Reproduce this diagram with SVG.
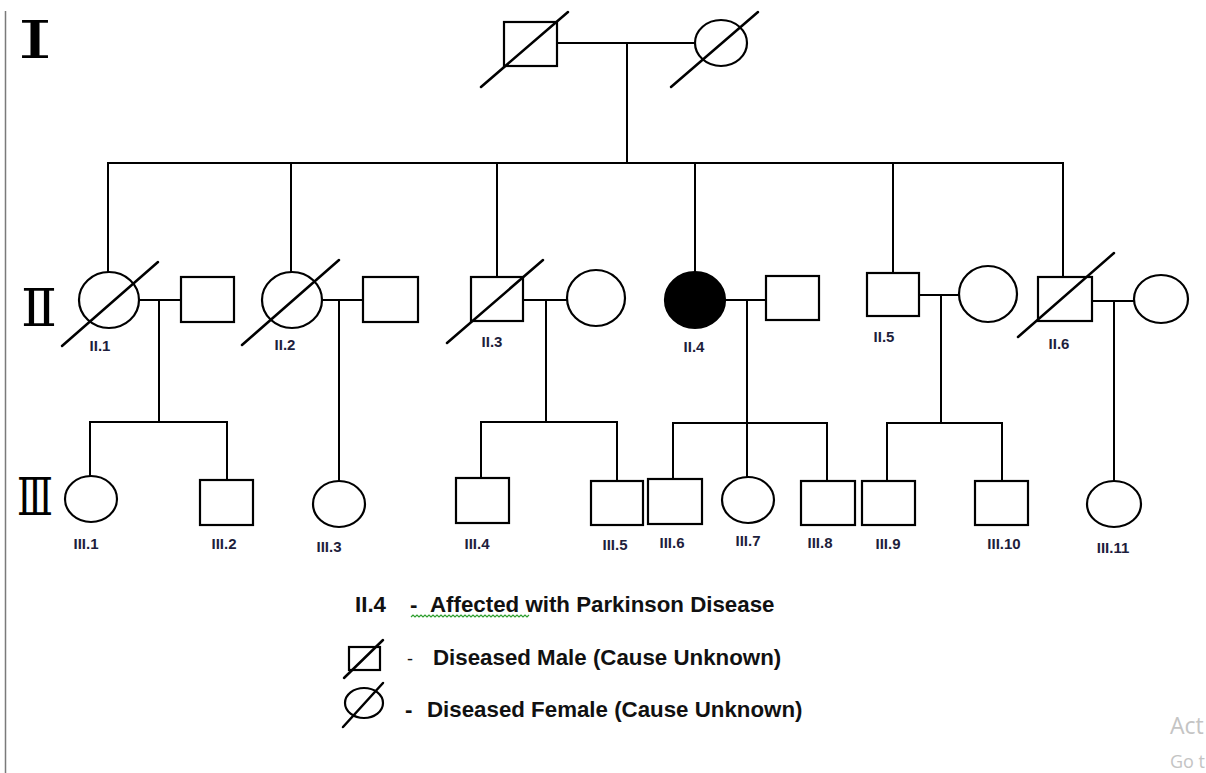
<svg xmlns="http://www.w3.org/2000/svg" width="1206" height="773" viewBox="0 0 1206 773">
<style>
.ln{stroke:#000;stroke-width:2;fill:none;stroke-linecap:square}
.sym{stroke:#000;stroke-width:2.2;fill:#fff}
.aff{stroke:#000;stroke-width:2.2;fill:#000}
.sl{stroke:#000;stroke-width:2.5;stroke-linecap:round}
.lbl{font-family:"Liberation Sans",Arial,sans-serif;font-weight:bold;font-size:15px;fill:#1e1e3c;text-anchor:middle}
.leg{font-family:"Liberation Sans",Arial,sans-serif;font-weight:bold;font-size:22.3px;fill:#111}
.gen{font-family:"DejaVu Serif","Liberation Serif",serif;font-size:53px;fill:#000}
.wm{font-family:"Open Sans","Noto Sans",sans-serif;fill:#c4c4c4}
</style>
<rect width="1206" height="773" fill="#fff"/>
<line x1="5.5" y1="11" x2="5.5" y2="773" stroke="#7a7a7a" stroke-width="1.5"/>
<g id="generations">
<text class="gen" x="17" y="58" textLength="36" lengthAdjust="spacingAndGlyphs">Ⅰ</text>
<text class="gen" x="21" y="326" textLength="36" lengthAdjust="spacingAndGlyphs">Ⅱ</text>
<text class="gen" x="17" y="515" textLength="36" lengthAdjust="spacingAndGlyphs">Ⅲ</text>
</g>
<g id="connectors" class="ln">
<path d="M557 43H695M627 43V163M108 163H1063"/>
<path d="M108 163V272M291 163V272M497 163V277M695 163V272M893 163V273M1063 163V277"/>
<path d="M139 300H181M159 300V422M90 422H227M90 422V476M227 422V480"/>
<path d="M322 300H363M339 300V481"/>
<path d="M523 300H567M546 300V422M481 422H617M481 422V478M617 422V481"/>
<path d="M725 300H766M747 300V477M673 423H827M673 423V479M827 423V481"/>
<path d="M919 295H959M941 295V423M887 423H1002M887 423V481M1002 423V481"/>
<path d="M1092 301H1134M1114 301V481"/>
</g>
<g id="I.1"><rect class="sym" x="504" y="22" width="53" height="44"/><line class="sl" x1="481" y1="87" x2="568" y2="12"/></g>
<g id="I.2"><ellipse class="sym" cx="721" cy="43" rx="26" ry="23"/><line class="sl" x1="671" y1="87" x2="758" y2="12"/></g>
<g id="II.1"><ellipse class="sym" cx="109" cy="300" rx="30" ry="28"/><line class="sl" x1="62" y1="346" x2="158" y2="262"/><text class="lbl" x="100" y="351">II.1</text></g>
<g id="II.1-spouse"><rect class="sym" x="181" y="277" width="53" height="45"/></g>
<g id="II.2"><ellipse class="sym" cx="292" cy="300" rx="30" ry="28"/><line class="sl" x1="242" y1="345" x2="339" y2="260"/><text class="lbl" x="285" y="350">II.2</text></g>
<g id="II.2-spouse"><rect class="sym" x="363" y="277" width="55" height="45"/></g>
<g id="II.3"><rect class="sym" x="471" y="277" width="52" height="44"/><line class="sl" x1="447" y1="343" x2="543" y2="260"/><text class="lbl" x="492" y="347">II.3</text></g>
<g id="II.3-spouse"><ellipse class="sym" cx="596" cy="298" rx="29" ry="28"/></g>
<g id="II.4"><ellipse class="aff" cx="695" cy="300" rx="30" ry="28"/><text class="lbl" x="694" y="352">II.4</text></g>
<g id="II.4-spouse"><rect class="sym" x="766" y="276" width="53" height="44"/></g>
<g id="II.5"><rect class="sym" x="867" y="273" width="52" height="43"/><text class="lbl" x="884" y="342">II.5</text></g>
<g id="II.5-spouse"><ellipse class="sym" cx="988" cy="294" rx="29" ry="28"/></g>
<g id="II.6"><rect class="sym" x="1038" y="277" width="54" height="44"/><line class="sl" x1="1018" y1="337" x2="1114" y2="253"/><text class="lbl" x="1059" y="349">II.6</text></g>
<g id="II.6-spouse"><ellipse class="sym" cx="1161" cy="299" rx="27" ry="24"/></g>
<g id="III.1"><ellipse class="sym" cx="91" cy="499" rx="26" ry="23"/><text class="lbl" x="86" y="549">III.1</text></g>
<g id="III.2"><rect class="sym" x="200" y="480" width="53" height="45"/><text class="lbl" x="224" y="549">III.2</text></g>
<g id="III.3"><ellipse class="sym" cx="339" cy="504" rx="26" ry="23"/><text class="lbl" x="329" y="552">III.3</text></g>
<g id="III.4"><rect class="sym" x="456" y="478" width="53" height="45"/><text class="lbl" x="477" y="549">III.4</text></g>
<g id="III.5"><rect class="sym" x="591" y="481" width="52" height="44"/><text class="lbl" x="615" y="550">III.5</text></g>
<g id="III.6"><rect class="sym" x="648" y="479" width="54" height="45"/><text class="lbl" x="672" y="548">III.6</text></g>
<g id="III.7"><ellipse class="sym" cx="748" cy="500" rx="26" ry="23"/><text class="lbl" x="748" y="546">III.7</text></g>
<g id="III.8"><rect class="sym" x="801" y="481" width="54" height="44"/><text class="lbl" x="820" y="548">III.8</text></g>
<g id="III.9"><rect class="sym" x="862" y="481" width="53" height="44"/><text class="lbl" x="888" y="549">III.9</text></g>
<g id="III.10"><rect class="sym" x="975" y="481" width="53" height="44"/><text class="lbl" x="1004" y="549">III.10</text></g>
<g id="III.11"><ellipse class="sym" cx="1114" cy="504" rx="27" ry="23"/><text class="lbl" x="1113" y="553">III.11</text></g>
<g id="legend">
<text class="leg" y="612"><tspan x="355">II.4</tspan><tspan x="410">-</tspan><tspan x="430">Affected with Parkinson Disease</tspan></text>
<path d="M411 617l2 -2l2 2l2 -2l2 2l2 -2l2 2l2 -2l2 2l2 -2l2 2l2 -2l2 2l2 -2l2 2l2 -2l2 2l2 -2l2 2l2 -2l2 2l2 -2l2 2l2 -2l2 2l2 -2l2 2l2 -2l2 2l2 -2l2 2l2 -2l2 2l2 -2l2 2l2 -2l2 2l2 -2l2 2l2 -2l2 2l2 -2l2 2l2 -2l2 2l2 -2l2 2l2 -2l2 2l2 -2l2 2l2 -2l2 2l2 -2l2 2l2 -2l2 2l2 -2l2 2l2 -2" fill="none" stroke="#2e9e2e" stroke-width="1.2"/>
<rect class="sym" x="349" y="647" width="31" height="23"/><line class="sl" x1="344" y1="678" x2="383" y2="640"/>
<text class="leg" y="665"><tspan x="407" font-weight="normal" font-size="18">-</tspan><tspan x="433">Diseased Male (Cause Unknown)</tspan></text>
<ellipse class="sym" cx="364" cy="703" rx="19" ry="15"/><line class="sl" x1="343" y1="727" x2="383" y2="683"/>
<text class="leg" y="717"><tspan x="405">-</tspan><tspan x="427">Diseased Female (Cause Unknown)</tspan></text>
</g>
<text class="wm" x="1170" y="734" font-size="23">Act</text>
<text class="wm" x="1170" y="768" font-size="18">Go t</text>
</svg>
